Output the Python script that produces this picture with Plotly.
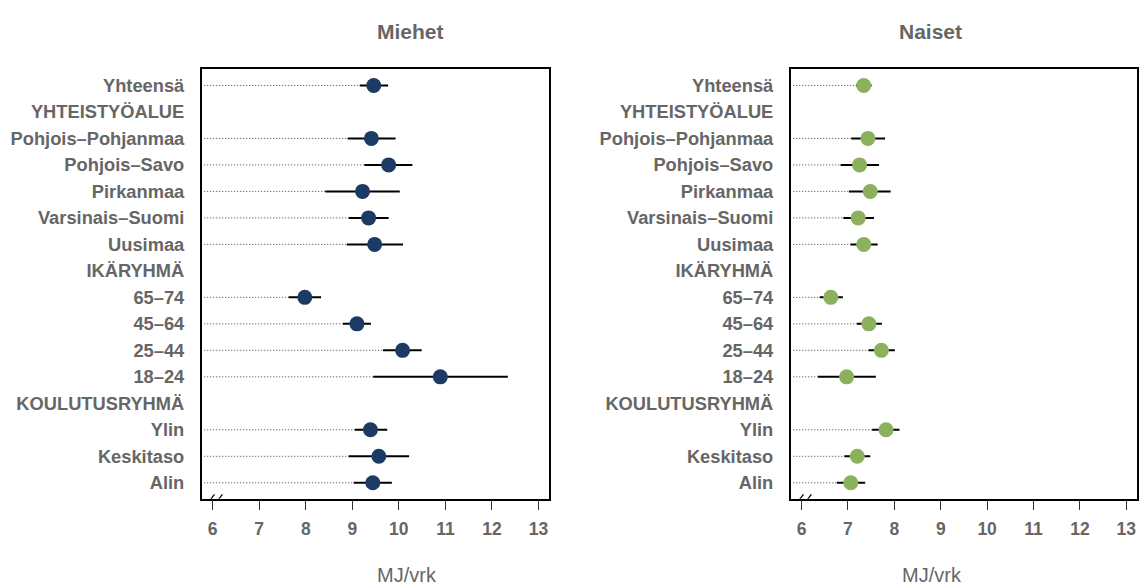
import plotly.graph_objects as go

# Rows from top to bottom; section headers carry no estimate (None)
rows = ["Yhteensä", "YHTEISTYÖALUE", "Pohjois–Pohjanmaa", "Pohjois–Savo", "Pirkanmaa",
        "Varsinais–Suomi", "Uusimaa", "IKÄRYHMÄ", "65–74", "45–64", "25–44", "18–24",
        "KOULUTUSRYHMÄ", "Ylin", "Keskitaso", "Alin"]

men_mean = [9.46, None, 9.41, 9.78, 9.22, 9.35, 9.48, None, 7.98, 9.10, 10.08, 10.89, None, 9.39, 9.57, 9.44]
men_low = [9.16, None, 8.90, 9.26, 8.42, 8.92, 8.88, None, 7.63, 8.80, 9.66, 9.45, None, 9.05, 8.92, 9.03]
men_high = [9.77, None, 9.93, 10.29, 10.02, 9.78, 10.09, None, 8.33, 9.40, 10.49, 12.34, None, 9.75, 10.22, 9.85]

women_mean = [7.34, None, 7.43, 7.25, 7.48, 7.22, 7.34, None, 6.63, 7.45, 7.72, 6.97, None, 7.82, 7.20, 7.06]
women_low = [7.17, None, 7.07, 6.84, 7.02, 6.90, 7.05, None, 6.39, 7.19, 7.44, 6.35, None, 7.52, 6.92, 6.76]
women_high = [7.51, None, 7.80, 7.67, 7.92, 7.56, 7.64, None, 6.89, 7.73, 8.01, 7.60, None, 8.11, 7.48, 7.37]

x_ticks = [6, 7, 8, 9, 10, 11, 12, 13]
x_range = [5.765, 13.225]
x_dot_start = 5.82

panels = [
    ("Miehet", men_mean, men_low, men_high, "#1b3a64", "x", "y", [0.1769, 0.4816]),
    ("Naiset", women_mean, women_low, women_high, "#8cb15c", "x2", "y2", [0.6936, 0.9971]),
]

GRAY = "#666666"
FONT = "Liberation Sans, Arial, Helvetica, sans-serif"

n = len(rows)
ypos = [n - 1 - i for i in range(n)]

fig = go.Figure()
layout = dict(
    width=1140, height=586,
    margin=dict(l=0, r=0, t=0, b=0),
    paper_bgcolor="white", plot_bgcolor="white",
    showlegend=False,
    font=dict(family=FONT, color=GRAY),
    annotations=[], shapes=[],
)

for idx, (title, mean, low, high, color, xr, yr, dom) in enumerate(panels):
    # dotted guide lines running from the left edge to each lower bound
    dx, dy = [], []
    for m, lo, y in zip(mean, low, ypos):
        if m is None:
            continue
        dx += [x_dot_start, lo, None]
        dy += [y, y, None]
    fig.add_trace(go.Scatter(x=dx, y=dy, mode="lines", xaxis=xr, yaxis=yr,
                             line=dict(color="#444444", width=1, dash="1px,2px"),
                             hoverinfo="skip"))
    # point estimates with confidence intervals
    px, py, ep, em = [], [], [], []
    for m, lo, hi, y in zip(mean, low, high, ypos):
        if m is None:
            continue
        px.append(m)
        py.append(y)
        ep.append(hi - m)
        em.append(m - lo)
    fig.add_trace(go.Scatter(
        x=px, y=py, mode="markers", xaxis=xr, yaxis=yr,
        marker=dict(color=color, size=15, line=dict(width=0)),
        error_x=dict(type="data", symmetric=False, array=ep, arrayminus=em,
                     color="black", thickness=2, width=0),
    ))

    suffix = "" if idx == 0 else str(idx + 1)
    layout["xaxis" + suffix] = dict(
        domain=dom, range=x_range, anchor="y" + suffix,
        tickvals=x_ticks, ticktext=[str(v) for v in x_ticks],
        ticks="outside", ticklen=10, tickwidth=1, tickcolor="#333333",
        ticklabelstandoff=4,
        showline=True, linecolor="black", linewidth=1.5, mirror=True,
        showgrid=False, zeroline=False,
        tickfont=dict(size=17.5, color=GRAY, family=FONT, weight="bold"),
    )
    layout["yaxis" + suffix] = dict(
        domain=[0.149, 0.882], range=[-0.6, n - 1 + 0.615], anchor="x" + suffix,
        tickvals=ypos, ticktext=rows, ticks="", ticklabelstandoff=12,
        showline=True, linecolor="black", linewidth=1.5, mirror=True,
        showgrid=False, zeroline=False,
        tickfont=dict(size=18.3, color=GRAY, family=FONT, weight="bold"),
    )
    mid = (dom[0] + dom[1]) / 2
    layout["annotations"].append(dict(
        text=title, x=mid, y=0.969, xref="paper", yref="paper",
        showarrow=False, font=dict(size=21, color=GRAY, family=FONT, weight="bold")))
    layout["annotations"].append(dict(
        text="MJ/vrk", x=mid, y=-0.004, xref="paper", yref="paper",
        showarrow=False, font=dict(size=20, color=GRAY, family=FONT)))
    # axis break marks near the origin
    for x0 in (5.89, 6.06):
        layout["shapes"].append(dict(
            type="line", xref=xr, yref=yr, x0=x0, x1=x0 + 0.15,
            y0=-0.78, y1=-0.44, line=dict(color="black", width=1.2)))

fig.update_layout(**layout)
fig.write_html("out.html")
